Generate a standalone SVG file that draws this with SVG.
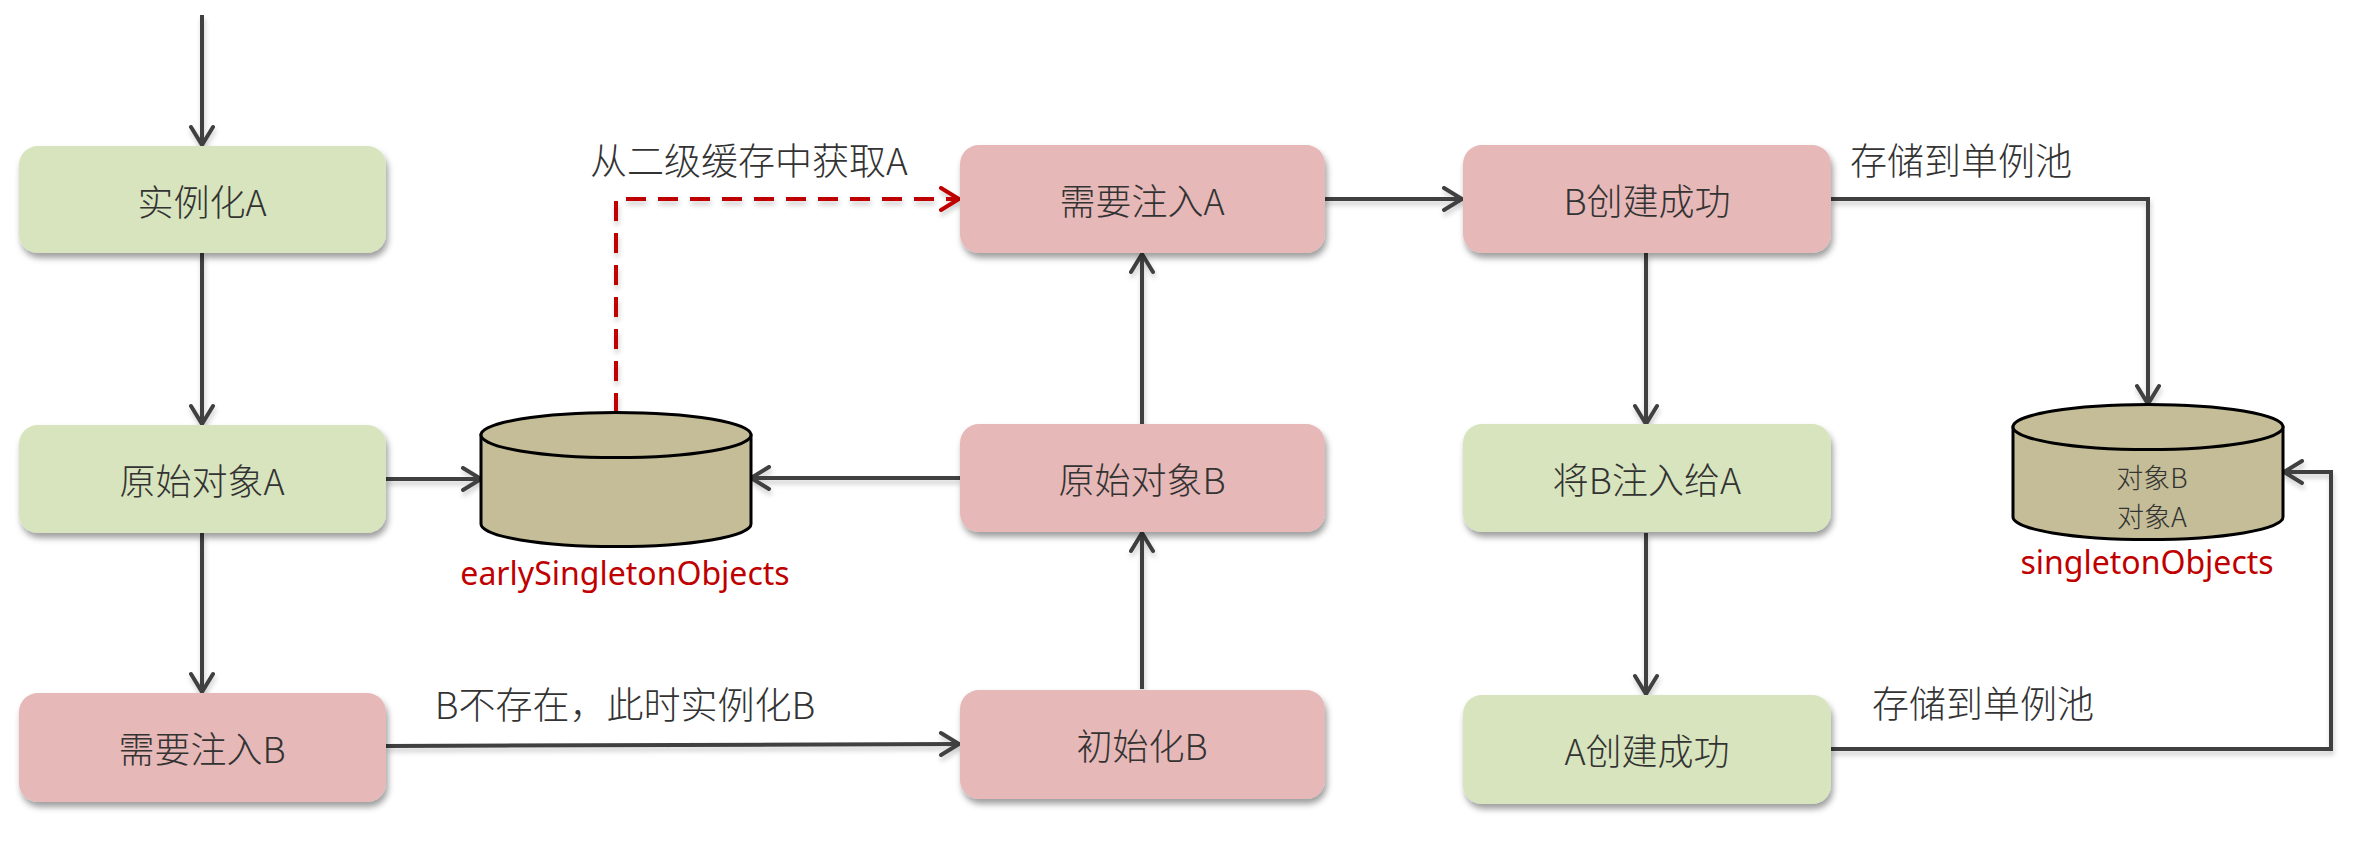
<svg xmlns="http://www.w3.org/2000/svg" width="2355" height="842" viewBox="0 0 2355 842">
<style>
.box{stroke:none}
.green{fill:#d7e4bd}
.pink{fill:#e6b8b7}
.lbl{font-family:"Noto Sans CJK SC","Noto Sans",sans-serif;font-weight:300;fill:#333333;text-anchor:middle;dominant-baseline:central}
.bl{font-size:36px}
.el{font-size:37px}
.cl{font-size:27px}
.red{font-family:"Noto Sans","Open Sans",sans-serif;font-size:32px;fill:#c00000;text-anchor:middle}
.conn{fill:none;stroke:#404040;stroke-width:4}
.dash{fill:none;stroke:#c00000;stroke-width:4;stroke-dasharray:20 12}
.cyl{fill:#c4bd97;stroke:#000;stroke-width:3}
</style>
<defs>
<filter id="sh" x="-10%" y="-20%" width="125%" height="150%">
<feDropShadow dx="2" dy="5" stdDeviation="3" flood-color="#000" flood-opacity="0.38"/>
</filter>
<filter id="lsh" x="-5%" y="-5%" width="110%" height="110%" filterUnits="userSpaceOnUse">
<feDropShadow dx="1" dy="4" stdDeviation="2.5" flood-color="#000" flood-opacity="0.2"/>
</filter>
<marker id="ah" markerUnits="userSpaceOnUse" viewBox="0 0 24 26" markerWidth="24" markerHeight="26" refX="21" refY="13" orient="auto">
<path d="M3,2 L21,13 L3,24" fill="none" stroke="#404040" stroke-width="4" stroke-linecap="round" stroke-linejoin="miter"/>
</marker>
<marker id="ahr" markerUnits="userSpaceOnUse" viewBox="0 0 24 26" markerWidth="24" markerHeight="26" refX="21" refY="13" orient="auto">
<path d="M3,2 L21,13 L3,24" fill="none" stroke="#c00000" stroke-width="4" stroke-linecap="round"/>
</marker>
</defs>
<rect width="2355" height="842" fill="#ffffff"/>

<g id="connectors" filter="url(#lsh)">
<path class="conn" d="M202,15 L202,145" marker-end="url(#ah)"/>
<path class="conn" d="M202,253 L202,424" marker-end="url(#ah)"/>
<path class="conn" d="M202,533 L202,692" marker-end="url(#ah)"/>
<path class="conn" d="M386,479 L481,479" marker-end="url(#ah)"/>
<path class="conn" d="M960,478 L751,478" marker-end="url(#ah)"/>
<path class="conn" d="M386,746 L959,744" marker-end="url(#ah)"/>
<path class="conn" d="M1142,689 L1142,533" marker-end="url(#ah)"/>
<path class="conn" d="M1142,425 L1142,254" marker-end="url(#ah)"/>
<path class="dash" d="M616,413 L616,199 L959,199" marker-end="url(#ahr)"/>
<path class="conn" d="M1324,199 L1462,199" marker-end="url(#ah)"/>
<path class="conn" d="M1646,253 L1646,424" marker-end="url(#ah)"/>
<path class="conn" d="M1646,533 L1646,694" marker-end="url(#ah)"/>
<path class="conn" d="M1831,199 L2148,199 L2148,404" marker-end="url(#ah)"/>
<path class="conn" d="M1831,749 L2331,749 L2331,472 L2284,472" marker-end="url(#ah)"/>
</g>

<g id="n-instantiateA">
<rect class="box green" x="19" y="146" width="367" height="107" rx="19" filter="url(#sh)"/>
<text class="lbl bl" x="202" y="200">实例化A</text>
</g>
<g id="n-rawA">
<rect class="box green" x="19" y="425" width="367" height="108" rx="19" filter="url(#sh)"/>
<text class="lbl bl" x="202" y="479">原始对象A</text>
</g>
<g id="n-injectB">
<rect class="box pink" x="19" y="693" width="367" height="109" rx="19" filter="url(#sh)"/>
<text class="lbl bl" x="202" y="747">需要注入B</text>
</g>
<g id="n-injectA">
<rect class="box pink" x="960" y="145" width="365" height="108" rx="19" filter="url(#sh)"/>
<text class="lbl bl" x="1142" y="199">需要注入A</text>
</g>
<g id="n-rawB">
<rect class="box pink" x="960" y="424" width="365" height="108" rx="19" filter="url(#sh)"/>
<text class="lbl bl" x="1142" y="478">原始对象B</text>
</g>
<g id="n-initB">
<rect class="box pink" x="960" y="690" width="365" height="109" rx="19" filter="url(#sh)"/>
<text class="lbl bl" x="1142" y="744">初始化B</text>
</g>
<g id="n-Bcreated">
<rect class="box pink" x="1463" y="145" width="368" height="108" rx="19" filter="url(#sh)"/>
<text class="lbl bl" x="1647" y="199">B创建成功</text>
</g>
<g id="n-injectBtoA">
<rect class="box green" x="1463" y="424" width="368" height="108" rx="19" filter="url(#sh)"/>
<text class="lbl bl" x="1647" y="478">将B注入给A</text>
</g>
<g id="n-Acreated">
<rect class="box green" x="1463" y="695" width="368" height="109" rx="19" filter="url(#sh)"/>
<text class="lbl bl" x="1647" y="749">A创建成功</text>
</g>

<g id="n-early">
<path class="cyl" d="M481,435 L481,524 A135,22.5 0 0 0 751,524 L751,435 Z"/>
<ellipse class="cyl" cx="616" cy="435" rx="135" ry="22.5"/>
<text class="red" x="625" y="585">earlySingletonObjects</text>
</g>
<g id="n-singleton">
<path class="cyl" d="M2013,427 L2013,517 A135,22.5 0 0 0 2283,517 L2283,427 Z"/>
<ellipse class="cyl" cx="2148" cy="427" rx="135" ry="22.5"/>
<text class="lbl cl" x="2152" y="476">对象B</text>
<text class="lbl cl" x="2152" y="515">对象A</text>
<text class="red" x="2147" y="574">singletonObjects</text>
</g>

<g id="edge-labels">
<text class="lbl el" x="749" y="159">从二级缓存中获取A</text>
<text class="lbl el" x="625" y="703">B不存在，此时实例化B</text>
<text class="lbl el" x="1961" y="159">存储到单例池</text>
<text class="lbl el" x="1983" y="702">存储到单例池</text>
</g>
</svg>
